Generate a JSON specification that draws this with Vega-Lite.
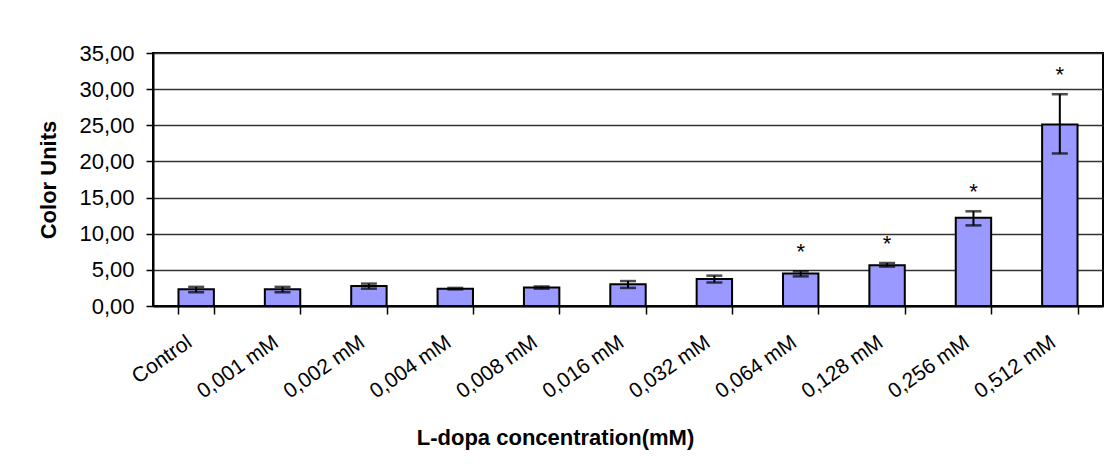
{
  "$schema": "https://vega.github.io/schema/vega-lite/v6.json",
  "autosize": "none",
  "width": 950,
  "height": 253,
  "padding": {"left": 153, "top": 53, "right": 5, "bottom": 163},
  "background": "white",
  "config": {
    "font": "Liberation Sans",
    "view": {"stroke": "black", "strokeWidth": 2},
    "axis": {"labelFont": "Liberation Sans", "titleFont": "Liberation Sans", "labelColor": "black", "titleColor": "black"},
    "axisY": {
      "tickCount": 7,
      "labelExpr": "replace(format(datum.value, '.2f'), '.', ',')",
      "labelFontSize": 22,
      "labelPadding": 12,
      "labelOverlap": false,
      "tickSize": 7,
      "tickColor": "black",
      "tickWidth": 1.5,
      "domainColor": "black",
      "domainWidth": 2,
      "grid": true,
      "gridColor": "#333333",
      "gridWidth": 1.5,
      "titleFontSize": 22,
      "titleFontWeight": "bold",
      "titleAngle": -90,
      "titleX": -105,
      "titleY": 126.5,
      "titleAlign": "center",
      "titleBaseline": "middle"
    }
  },
  "data": {
    "values": [
      {"conc": "Control", "mean": 2.3, "lo": 1.9, "hi": 2.65, "sig": ""},
      {"conc": "0,001 mM", "mean": 2.3, "lo": 1.9, "hi": 2.65, "sig": ""},
      {"conc": "0,002 mM", "mean": 2.75, "lo": 2.4, "hi": 3.1, "sig": ""},
      {"conc": "0,004 mM", "mean": 2.4, "lo": 2.3, "hi": 2.5, "sig": ""},
      {"conc": "0,008 mM", "mean": 2.55, "lo": 2.4, "hi": 2.7, "sig": ""},
      {"conc": "0,016 mM", "mean": 3.0, "lo": 2.5, "hi": 3.45, "sig": ""},
      {"conc": "0,032 mM", "mean": 3.75, "lo": 3.25, "hi": 4.2, "sig": ""},
      {"conc": "0,064 mM", "mean": 4.5, "lo": 4.1, "hi": 4.8, "sig": "*"},
      {"conc": "0,128 mM", "mean": 5.65, "lo": 5.45, "hi": 5.95, "sig": "*"},
      {"conc": "0,256 mM", "mean": 12.2, "lo": 11.15, "hi": 13.1, "sig": "*"},
      {"conc": "0,512 mM", "mean": 25.1, "lo": 21.1, "hi": 29.3, "sig": "*"}
    ]
  },
  "encoding": {
    "x": {
      "field": "conc",
      "type": "nominal",
      "sort": null,
      "scale": {"paddingInner": 0.59, "paddingOuter": 0.295},
      "axis": {
        "title": "L-dopa concentration(mM)",
        "titleFontSize": 22,
        "titleFontWeight": "bold",
        "titleX": 402,
        "titleY": 131,
        "titleAnchor": null,
        "titleAlign": "center",
        "titleBaseline": "middle",
        "labelAngle": -35,
        "labelFontSize": 21,
        "labelAlign": "right",
        "labelBaseline": "top",
        "labelPadding": 17,
        "labelOffset": -13,
        "tickBand": "extent",
        "tickSize": 8,
        "tickColor": "black",
        "tickWidth": 1.5,
        "domainColor": "black",
        "domainWidth": 2,
        "grid": false
      }
    },
    "y": {
      "field": "mean",
      "type": "quantitative",
      "scale": {"domain": [0, 35], "nice": false},
      "title": "Color Units"
    }
  },
  "layer": [
    {
      "mark": {"type": "bar", "fill": "#9999FF", "stroke": "black", "strokeWidth": 2}
    },
    {
      "mark": {"type": "rule", "stroke": "black", "strokeWidth": 2},
      "encoding": {
        "y": {"field": "lo", "type": "quantitative", "title": "Color Units"},
        "y2": {"field": "hi"}
      }
    },
    {
      "mark": {"type": "tick", "color": "black", "size": 16, "thickness": 2.5, "orient": "horizontal"},
      "encoding": {"y": {"field": "lo", "type": "quantitative", "title": "Color Units"}}
    },
    {
      "mark": {"type": "tick", "color": "black", "size": 16, "thickness": 2.5, "orient": "horizontal"},
      "encoding": {"y": {"field": "hi", "type": "quantitative", "title": "Color Units"}}
    },
    {
      "mark": {"type": "text", "fontSize": 22, "dy": -19, "baseline": "middle", "color": "black"},
      "encoding": {
        "y": {"field": "hi", "type": "quantitative", "title": "Color Units"},
        "text": {"field": "sig"}
      }
    }
  ]
}
